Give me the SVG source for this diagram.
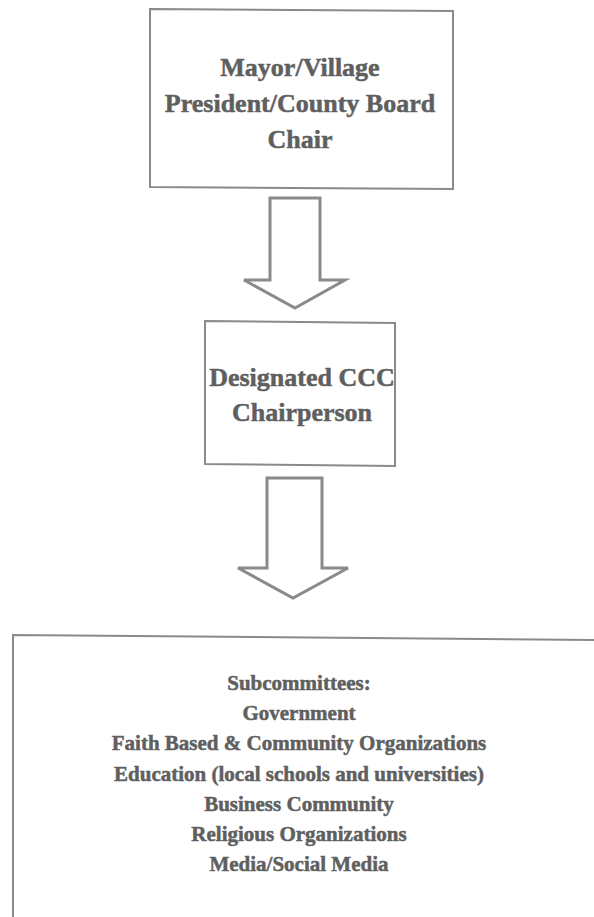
<svg xmlns="http://www.w3.org/2000/svg" width="594" height="917" viewBox="0 0 594 917">
<style>
.box{fill:none;stroke:#8a8a8a;stroke-width:2}
.arrow{fill:#ffffff;stroke:#8a8a8a;stroke-width:3;stroke-linejoin:miter}
.t{font-family:"Liberation Serif","Times New Roman",serif;font-weight:bold;fill:#5f5f5f;stroke:#5f5f5f;stroke-width:0.5;text-anchor:middle}
.big{font-size:26px}
.small{font-size:21px}
</style>
<rect width="594" height="917" fill="#ffffff"/>
<g id="node-mayor">
<polygon class="box" points="150,9 453,11 453,189 150,187"/>
<text class="t big" x="300" y="76">Mayor/Village</text>
<text class="t big" x="300" y="112">President/County Board</text>
<text class="t big" x="300" y="148">Chair</text>
</g>
<g id="node-ccc">
<polygon class="box" points="205,321 395,323 395,466 205,464"/>
<text class="t big" x="302" y="386">Designated CCC</text>
<text class="t big" x="302" y="421">Chairperson</text>
</g>
<g id="node-subcommittees">
<polyline class="box" points="13,917 13,635 594,640"/>
<text class="t small" x="299" y="690">Subcommittees:</text>
<text class="t small" x="299" y="720">Government</text>
<text class="t small" x="299" y="750">Faith Based &amp; Community Organizations</text>
<text class="t small" x="299" y="781">Education (local schools and universities)</text>
<text class="t small" x="299" y="811">Business Community</text>
<text class="t small" x="299" y="841">Religious Organizations</text>
<text class="t small" x="299" y="871">Media/Social Media</text>
</g>
<g id="connectors">
<polygon class="arrow" points="270,198 320,198 320,280 345,280 295,308 244,280 270,280"/>
<polygon class="arrow" points="267,478 322,478 322,568 348,568 293,598 238,568 267,568"/>
</g>
</svg>
